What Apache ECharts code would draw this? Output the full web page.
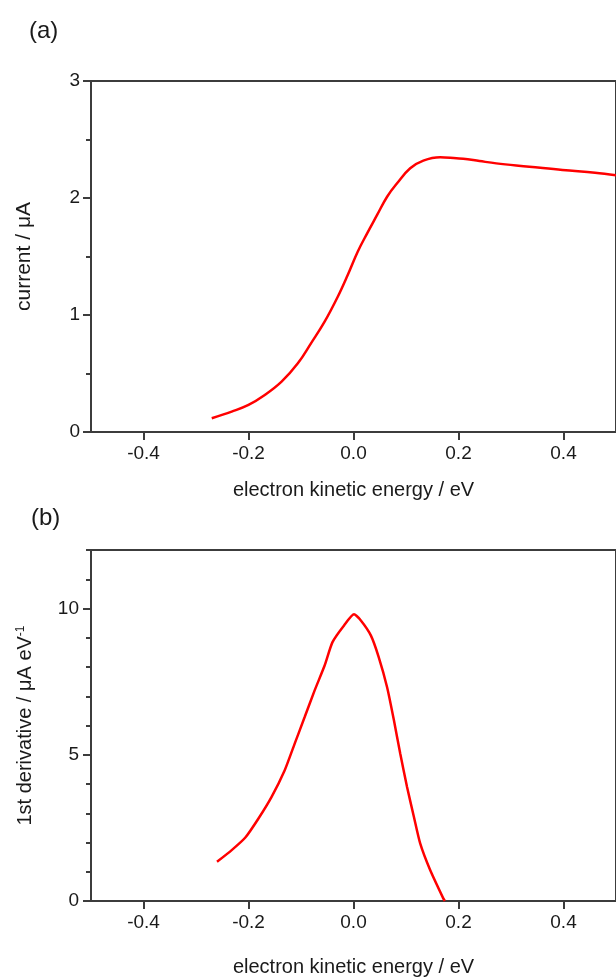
<!DOCTYPE html>
<html>
<head>
<meta charset="utf-8">
<script src="https://cdn.jsdelivr.net/npm/echarts@6/dist/echarts.min.js"></script>
<style>
  html, body { margin: 0; padding: 0; background: #fff; }
  #chart { width: 616px; height: 979px; }
</style>
</head>
<body>
<div id="chart"></div>
<script>
  // (a) current vs electron kinetic energy
  var energyA = [-0.270, -0.232, -0.200, -0.169, -0.137, -0.106, -0.081, -0.055, -0.030, -0.011,
                 0.008, 0.026, 0.045, 0.064, 0.083, 0.108, 0.133, 0.165, 0.196, 0.209,
                 0.240, 0.272, 0.335, 0.398, 0.460, 0.500]
  var currentA = [0.117, 0.174, 0.231, 0.316, 0.430, 0.587, 0.758, 0.943, 1.156, 1.342,
                  1.541, 1.698, 1.855, 2.011, 2.126, 2.254, 2.319, 2.348, 2.339, 2.336,
                  2.316, 2.296, 2.268, 2.239, 2.216, 2.195]

  // (b) 1st derivative
  var energyB = [-0.260, -0.232, -0.206, -0.181, -0.156, -0.131, -0.112, -0.093, -0.074, -0.055,
                 -0.040, -0.018, 0.001, 0.014, 0.033, 0.048, 0.064, 0.077, 0.089, 0.102,
                 0.115, 0.127, 0.146, 0.171, 0.174]
  var derivB = [1.34, 1.74, 2.17, 2.82, 3.56, 4.47, 5.38, 6.29, 7.20, 8.05,
                8.85, 9.42, 9.80, 9.59, 9.08, 8.34, 7.31, 6.18, 5.04, 3.90,
                2.88, 1.97, 1.06, 0.09, 0.00]

  var xTicks = [-0.4, -0.2, 0, 0.2, 0.4]
  var yTicksB = [0, 5, 10]

  function zip(xs, ys) {
    return xs.map(function (x, i) { return [x, ys[i]] })
  }

  var axisColor = '#3c3c3c'
  var textColor = '#1a1a1a'
  var font = '"Liberation Sans", Arial, sans-serif'

  function xAxisFor(gridIndex, gap) {
    return {
      type: 'value',
      gridIndex: gridIndex,
      min: -0.5,
      max: 0.5,
      name: 'electron kinetic energy / eV',
      nameLocation: 'middle',
      nameGap: gap,
      nameTextStyle: { fontSize: 20, color: textColor, verticalAlign: 'top' },
      axisLine: { onZero: false, lineStyle: { color: axisColor, width: 2 } },
      axisTick: { length: 8, lineStyle: { color: axisColor, width: 2 }, customValues: xTicks },
      axisLabel: {
        fontSize: 19, color: textColor, margin: 12, customValues: xTicks,
        formatter: function (v) { return v.toFixed(1) }
      },
      splitLine: { show: false }
    }
  }

  var chart = echarts.init(document.getElementById('chart'))
  chart.setOption({
    animation: false,
    textStyle: { fontFamily: font },
    graphic: [
      { type: 'text', left: 29, top: 19, style: { text: '(a)', font: '24px ' + font, fill: textColor } },
      { type: 'text', left: 31, top: 506, style: { text: '(b)', font: '24px ' + font, fill: textColor } }
    ],
    grid: [
      { left: 91, top: 81, width: 530, height: 351, show: true, borderColor: axisColor, borderWidth: 2 },
      { left: 91, top: 550, width: 530, height: 351, show: true, borderColor: axisColor, borderWidth: 2 }
    ],
    xAxis: [xAxisFor(0, 48), xAxisFor(1, 56)],
    yAxis: [
      {
        type: 'value',
        gridIndex: 0,
        position: 'left',
        min: 0,
        max: 3,
        interval: 1,
        name: 'current / μA',
        nameLocation: 'middle',
        nameGap: 56,
        nameTextStyle: { fontSize: 21, color: textColor },
        axisLine: { onZero: false, lineStyle: { color: axisColor, width: 2 } },
        axisTick: { length: 8, lineStyle: { color: axisColor, width: 2 } },
        minorTick: { show: true, splitNumber: 2, length: 5, lineStyle: { color: axisColor, width: 2 } },
        axisLabel: { fontSize: 19, color: textColor, margin: 11 },
        splitLine: { show: false },
        minorSplitLine: { show: false }
      },
      {
        type: 'value',
        gridIndex: 1,
        position: 'left',
        min: 0,
        max: 12,
        name: '1st derivative / μA eV{sup|-1}',
        nameLocation: 'middle',
        nameGap: 56,
        nameTextStyle: {
          fontSize: 20, color: textColor,
          rich: { sup: { fontSize: 12, verticalAlign: 'top', color: textColor } }
        },
        axisLine: { onZero: false, lineStyle: { color: axisColor, width: 2 } },
        axisTick: { length: 8, lineStyle: { color: axisColor, width: 2 }, customValues: yTicksB },
        axisLabel: { fontSize: 19, color: textColor, margin: 12, customValues: yTicksB },
        splitLine: { show: false }
      },
      {
        // minor ticks every 1 for panel (b)
        type: 'value',
        gridIndex: 1,
        position: 'left',
        min: 0,
        max: 12,
        interval: 1,
        axisLine: { show: false, onZero: false },
        axisTick: { length: 5, lineStyle: { color: axisColor, width: 2 } },
        axisLabel: { show: false },
        splitLine: { show: false }
      }
    ],
    series: [
      {
        type: 'line',
        xAxisIndex: 0,
        yAxisIndex: 0,
        data: zip(energyA, currentA),
        smooth: 0.4,
        showSymbol: false,
        lineStyle: { color: '#ff0000', width: 2.5 }
      },
      {
        type: 'line',
        xAxisIndex: 1,
        yAxisIndex: 1,
        data: zip(energyB, derivB),
        smooth: 0.2,
        showSymbol: false,
        lineStyle: { color: '#ff0000', width: 2.5 }
      }
    ]
  })
</script>
</body>
</html>
